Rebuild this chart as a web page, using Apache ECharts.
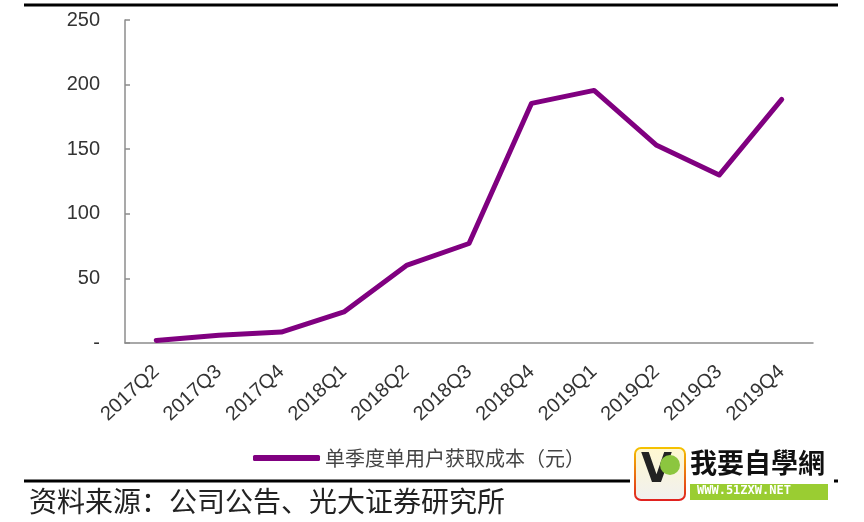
<!DOCTYPE html>
<html>
<head>
<meta charset="utf-8">
<script src="https://cdn.jsdelivr.net/npm/echarts@6/dist/echarts.min.js"></script>
<style>html,body{margin:0;padding:0;background:#fff}#c{width:864px;height:522px}</style>
</head>
<body>
<div id="c"></div>
<script>
var categories = ['2017Q2','2017Q3','2017Q4','2018Q1','2018Q2','2018Q3','2018Q4','2019Q1','2019Q2','2019Q3','2019Q4'];
var costValues = [2, 6, 8.5, 24, 60, 77, 185.5, 195.5, 153, 130, 188.5];
var seriesName = '单季度单用户获取成本（元）';
var yTicks = [0, 50, 100, 150, 200, 250];
var sourceText = '资料来源：公司公告、光大证券研究所';

var chart = echarts.init(document.getElementById('c'));
chart.setOption({
  animation: false,
  backgroundColor: '#fff',
  grid: {left: 125, right: 51, top: 20, bottom: 179, containLabel: false},
  legend: {
    left: 248, top: 443,
    icon: 'roundRect', itemWidth: 67, itemHeight: 6,
    textStyle: {fontFamily: 'Noto Sans CJK SC', fontSize: 20, color: '#444'},
    itemGap: 6,
    data: [seriesName]
  },
  xAxis: {
    type: 'category', data: categories,
    axisLine: {lineStyle: {color: '#8c8c8c', width: 1.5}},
    axisTick: {inside: true, length: 5, lineStyle: {color: '#8c8c8c', width: 1.5}},
    axisLabel: {rotate: 43, margin: 26, fontFamily: 'Liberation Sans', fontSize: 20, color: '#333', interval: 0}
  },
  yAxis: {
    type: 'value', min: yTicks[0], max: yTicks[yTicks.length-1], interval: 50,
    splitLine: {show: false},
    axisLine: {show: true, lineStyle: {color: '#8c8c8c', width: 1.5}},
    axisTick: {show: true, inside: true, length: 5, lineStyle: {color: '#8c8c8c', width: 1.5}},
    axisLabel: {margin: 25, fontFamily: 'Liberation Sans', fontSize: 20, color: '#333',
      formatter: function(v){ return v === 0 ? '-' : String(v); }}
  },
  series: [{
    name: seriesName, type: 'line', data: costValues,
    showSymbol: false, symbol: 'none',
    lineStyle: {color: '#800080', width: 5, cap: 'round', join: 'round'},
    itemStyle: {color: '#800080'}
  }],
  graphic: [
    {type: 'line', shape: {x1: 24, y1: 5, x2: 838, y2: 5}, style: {stroke: '#000', lineWidth: 3}},
    {type: 'line', shape: {x1: 24, y1: 481, x2: 838, y2: 481}, style: {stroke: '#000', lineWidth: 3}},
    {type: 'text', left: 29, top: 487, style: {text: sourceText, font: '28px "Noto Sans CJK SC"', fill: '#222'}},
    {type: 'rect', shape: {x: 630, y: 445, width: 204, height: 60, r: 4}, style: {fill: '#fff'}},
    {type: 'rect', shape: {x: 635, y: 448, width: 50, height: 52, r: 6},
      style: {fill: {type: 'linear', x: 0, y: 0, x2: 0, y2: 1, colorStops: [{offset: 0, color: '#fff8d0'}, {offset: 1, color: '#f0f0f0'}]},
        stroke: {type: 'linear', x: 0, y: 0, x2: 0, y2: 1, colorStops: [{offset: 0, color: '#f5c400'}, {offset: 1, color: '#e02020'}]}, lineWidth: 2}},
    {type: 'text', left: 641, top: 452, style: {text: 'V', font: 'bold 40px "DejaVu Sans"', fill: '#222'}},
    {type: 'circle', shape: {cx: 670, cy: 465, r: 10}, style: {fill: '#8cc63f'}},
    {type: 'text', left: 690, top: 449, style: {text: '我要自學網', font: 'bold 27px "Noto Sans CJK TC"', fill: '#111'}},
    {type: 'rect', shape: {x: 690, y: 484, width: 138, height: 16}, style: {fill: '#9acd32'}},
    {type: 'text', left: 697, top: 485, style: {text: 'WWW.51ZXW.NET', font: 'bold 12px "DejaVu Sans Mono"', fill: '#fff'}}
  ]
});
</script>
</body>
</html>
